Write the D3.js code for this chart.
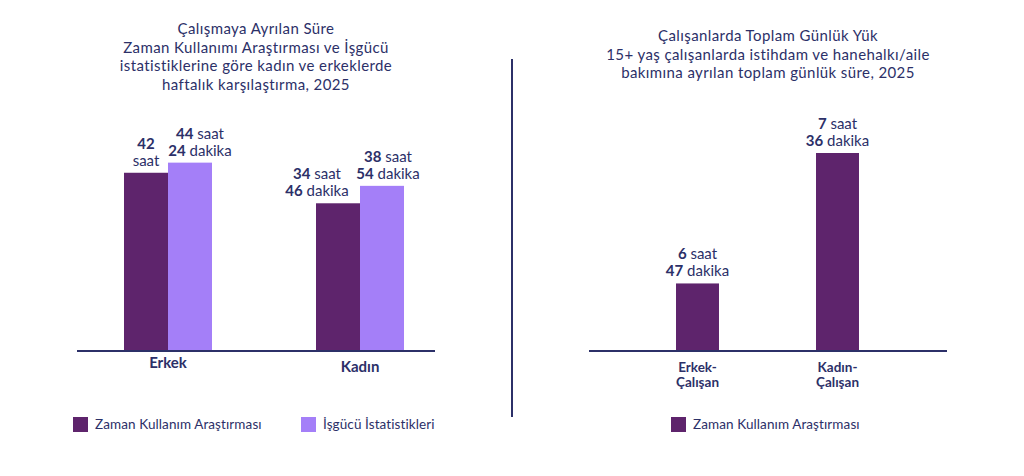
<!DOCTYPE html>
<html>
<head>
<meta charset="utf-8">
<title>Çalışma süresi</title>
<style>
  body { margin: 0; background: #fff; }
  svg text { font-family: Lato, "Open Sans", sans-serif; fill: #2c3068; }
</style>
</head>
<body>
<script src="https://cdn.jsdelivr.net/npm/d3@7/dist/d3.min.js"></script>
<script>
// ---- data ----
var leftTitle = ["Çalışmaya Ayrılan Süre", "Zaman Kullanımı Araştırması ve İşgücü",
                 "istatistiklerine göre kadın ve erkeklerde", "haftalık karşılaştırma, 2025"];
var rightTitle = ["Çalışanlarda Toplam Günlük Yük", "15+ yaş çalışanlarda istihdam ve hanehalkı/aile",
                  "bakımına ayrılan toplam günlük süre, 2025"];

var leftCategories = ["Erkek", "Kadın"];
var leftSeries = ["Zaman Kullanım Araştırması", "İşgücü İstatistikleri"];
var leftHours = [[42, 34], [44, 38]];      // per series, per category
var leftMinutes = [[0, 46], [24, 54]];

var rightCategories = ["Erkek-Çalışan", "Kadın-Çalışan"];
var rightSeries = ["Zaman Kullanım Araştırması"];
var rightHours = [6, 7];
var rightMinutes = [47, 36];

var colors = ["#5e246c", "#a47ff8"];
var navy = "#2c3068";

var svg = d3.select("body").append("svg")
    .attr("width", 1024)
    .attr("height", 476);

svg.append("rect").attr("width", 1024).attr("height", 476).attr("fill", "#fff");

function title(lines, cx, y0) {
  var t = svg.append("text").attr("text-anchor", "middle")
    .style("font-size", "15px").style("letter-spacing", "0.4px");
  lines.forEach(function(l, i) {
    t.append("tspan").attr("x", cx).attr("y", y0 + i * 18.5).text(l);
  });
}
title(leftTitle, 256, 34);
title(rightTitle, 768, 41);

// value label: bold number + word, two lines, sitting on the bar top
function valueLabel(g, cx, top, h, m) {
  var lines = m === 0 ? [[h, ""], ["", "saat"]] : [[h, " saat"], [m, " dakika"]];
  var t = g.append("text").attr("text-anchor", "middle").style("font-size", "15px");
  lines.forEach(function(l, i) {
    var y = top - 7 - (lines.length - 1 - i) * 17;
    var s = t.append("tspan").attr("x", cx).attr("y", y);
    s.append("tspan").style("font-weight", "bold").text(l[0]);
    s.append("tspan").text(l[1]);
  });
}

// ---- left chart ----
var gl = svg.append("g");
var x0 = d3.scaleBand().domain(leftCategories).range([72, 456])
    .paddingInner(0.5417).paddingOuter(0.2708);
var x1 = d3.scaleBand().domain(leftSeries).range([0, x0.bandwidth()]);
var yl = d3.scaleLinear().domain([0, 50]).range([350, 139]);

var labelShift = [[0, -21], [10, 6]];
leftSeries.forEach(function(s, si) {
  leftCategories.forEach(function(c, ci) {
    var v = leftHours[si][ci] + leftMinutes[si][ci] / 60;
    var bx = x0(c) + x1(s);
    gl.append("rect")
      .attr("x", bx).attr("y", yl(v))
      .attr("width", x1.bandwidth()).attr("height", yl(0) - yl(v))
      .attr("fill", colors[si]);
    valueLabel(gl, bx + x1.bandwidth() / 2 + labelShift[si][ci], yl(v),
               leftHours[si][ci], leftMinutes[si][ci]);
  });
});

var xAxisL = d3.axisBottom(x0).tickSize(0).tickPadding(0);
var axL = gl.append("g").attr("transform", "translate(0,351)").call(xAxisL);
axL.select(".domain").attr("d", "M77,0H435").attr("stroke", navy).attr("stroke-width", 2);
axL.selectAll(".tick text")
  .attr("dy", null)
  .attr("y", function(d, i) { return i === 0 ? 17 : 21; })
  .style("font-size", "15px").style("font-weight", "bold")
  .style("font-family", "Lato, sans-serif").attr("fill", navy);

// ---- right chart ----
var gr = svg.append("g");
var xr = d3.scaleBand().domain(rightCategories).range([627.5, 907.5])
    .paddingInner(0.693).paddingOuter(0.3465);
var yr = d3.scaleLinear().domain([382, 456]).range([350, 153]); // minutes

rightCategories.forEach(function(c, ci) {
  var v = rightHours[ci] * 60 + rightMinutes[ci];
  gr.append("rect")
    .attr("x", xr(c)).attr("y", yr(v))
    .attr("width", xr.bandwidth()).attr("height", yr(382) - yr(v))
    .attr("fill", colors[0]);
  valueLabel(gr, xr(c) + xr.bandwidth() / 2, yr(v), rightHours[ci], rightMinutes[ci]);
});

var xAxisR = d3.axisBottom(xr).tickSize(0).tickPadding(0);
var axR = gr.append("g").attr("transform", "translate(0,351)").call(xAxisR);
axR.select(".domain").attr("d", "M589,0H947").attr("stroke", navy).attr("stroke-width", 2);
axR.selectAll(".tick text").each(function(d) {
  var t = d3.select(this).text(null).attr("dy", null)
    .style("font-size", "13.5px").style("font-weight", "bold")
    .style("font-family", "Lato, sans-serif").attr("fill", navy);
  var parts = d.split("-");
  t.append("tspan").attr("x", 0).attr("y", 21).text(parts[0] + "-");
  t.append("tspan").attr("x", 0).attr("y", 36).text(parts[1]);
});

// separator
svg.append("line").attr("x1", 512).attr("x2", 512).attr("y1", 59).attr("y2", 417)
  .attr("stroke", navy).attr("stroke-width", 2);

// ---- legends ----
function legend(items, xs) {
  items.forEach(function(name, i) {
    var g = svg.append("g").attr("transform", "translate(" + xs[i] + ",417)");
    g.append("rect").attr("width", 15).attr("height", 15).attr("fill", colors[i]);
    g.append("text").attr("x", 22).attr("y", 12).style("font-size", "13.5px")
      .style("letter-spacing", "0.1px").text(name);
  });
}
legend(leftSeries, [73, 301]);
legend(rightSeries, [671]);
</script>
</body>
</html>
